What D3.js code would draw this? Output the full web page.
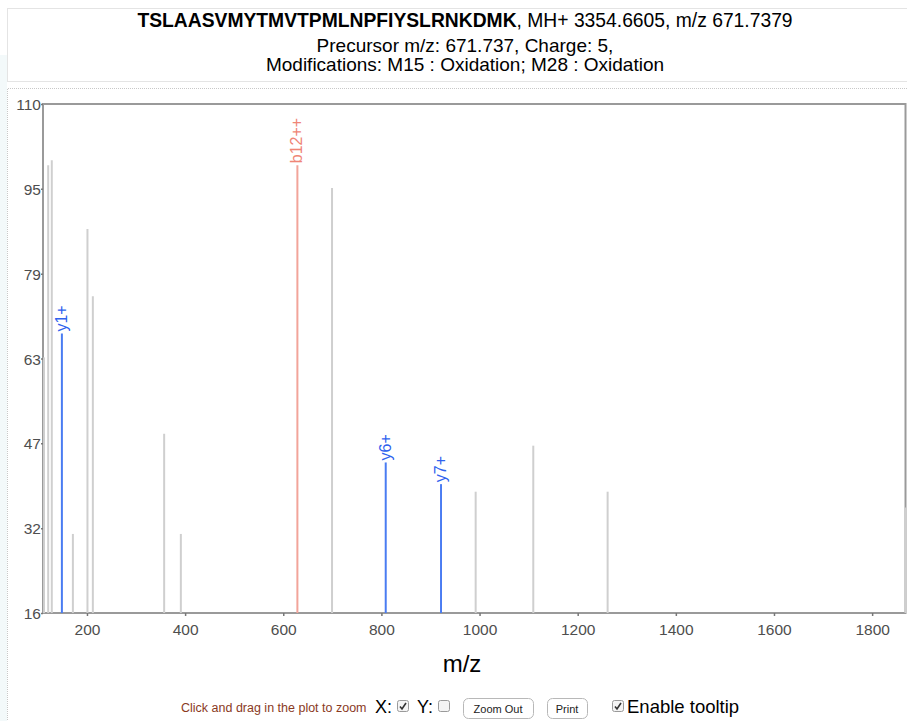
<!DOCTYPE html>
<html><head><meta charset="utf-8">
<script src="https://cdn.jsdelivr.net/npm/d3@7"></script>
<style>
html,body{margin:0;padding:0;background:#fff;}
svg{display:block;font-family:"Liberation Sans",Arial,sans-serif;}
</style></head>
<body>
<svg id="c" width="907" height="721"></svg>
<script>
// ---- data ----
const peptide = "TSLAASVMYTMVTPMLNPFIYSLRNKDMK";
const titleRest = ", MH+ 3354.6605, m/z 671.7379";
const subLine1 = "Precursor m/z: 671.737, Charge: 5,";
const subLine2 = "Modifications: M15 : Oxidation; M28 : Oxidation";
const mzValues    = [112.5, 121.0, 128.3, 148.9, 171.3, 201.0, 212.0, 357.3, 391.3, 628.8, 699.4, 808.8, 921.5, 992.1, 1109.5, 1261.0, 1868.0];
const intensities = [63.2, 98.7, 99.6, 67.6, 30.6, 86.9, 74.5, 49.1, 30.6, 98.7, 94.5, 43.8, 39.8, 38.4, 46.9, 38.4, 35.5];
const ionLabels   = ["", "", "", "y1+", "", "", "", "", "", "b12++", "", "y6+", "y7+", "", "", "", ""];
const ionTypes    = ["", "", "", "y", "", "", "", "", "", "b", "", "y", "y", "", "", "", ""];
const xDomain = [110.4, 1868];
const yDomain = [16, 110];
const xTicks = [200, 400, 600, 800, 1000, 1200, 1400, 1600, 1800];
const yTickLabels = ["16", "32", "47", "63", "79", "95", "110"];
const xAxisTitle = "m/z";

// ---- layout ----
const svg = d3.select("#c");
const L = 43, R = 905.5, T = 104, B = 613;
const x = d3.scaleLinear().domain(xDomain).range([L, R]);
const y = d3.scaleLinear().domain(yDomain).range([B, T]);

// faint left strip & dotted boxes
svg.append("rect").attr("x",0).attr("y",55).attr("width",7).attr("height",666).attr("fill","#f3f9fa");
const dot = g => g.attr("fill","none").attr("stroke","#c8c8c8").attr("stroke-width",1).attr("stroke-dasharray","1,1");
svg.append("rect").attr("x",7.5).attr("y",8.5).attr("width",920).attr("height",73).call(dot);
svg.append("path").attr("d","M7.5,730 V88.5 H920").call(dot);

// title
const tt = svg.append("text").attr("x",465).attr("y",27).attr("text-anchor","middle")
  .attr("font-size",19.3).attr("fill","#000");
tt.append("tspan").attr("font-weight","bold").text(peptide);
tt.append("tspan").text(titleRest);
svg.append("text").attr("x",465).attr("y",52).attr("text-anchor","middle").attr("font-size",19).text(subLine1);
svg.append("text").attr("x",465).attr("y",71).attr("text-anchor","middle").attr("font-size",19).text(subLine2);

// clip
svg.append("clipPath").attr("id","clip").append("rect").attr("x",L).attr("y",T-1).attr("width",R-L+1).attr("height",B-T+1);

// frame
svg.append("rect").attr("x",L).attr("y",T).attr("width",R-L).attr("height",B-T)
  .attr("fill","none").attr("stroke","#9a9a9a").attr("stroke-width",2);

// axes
const xa = svg.append("g").attr("transform",`translate(0,${B})`)
  .call(d3.axisBottom(x).tickValues(xTicks).tickSize(3).tickSizeOuter(0).tickFormat(d3.format("d")));
const yTickVals = d3.range(yTickLabels.length).map(i => yDomain[0] + i*(yDomain[1]-yDomain[0])/(yTickLabels.length-1));
const ya = svg.append("g").attr("transform",`translate(${L},0)`)
  .call(d3.axisLeft(y).tickValues(yTickVals).tickSize(2).tickSizeOuter(0).tickFormat((d,i)=>yTickLabels[i]));
[xa,ya].forEach(a=>{
  a.select(".domain").remove();
  a.selectAll(".tick line").attr("stroke","#777").attr("stroke-width",1.5);
  a.selectAll(".tick text").attr("font-size",15.5).attr("fill","#4e4e4e").attr("font-family","Liberation Sans, Arial, sans-serif");
});
xa.selectAll(".tick text").attr("dy","1.0em");
ya.selectAll(".tick text").attr("dy","0.36em").attr("x",-2);

// peaks
const colorLine = t => t==="y" ? "#4a7cf2" : t==="b" ? "#f2a49a" : "#cfcfcf";
const colorText = t => t==="y" ? "#2f62ee" : "#ef8576";
const peaks = mzValues.map((m,i)=>({mz:m, it:intensities[i], lab:ionLabels[i], t:ionTypes[i]}));
const pg = svg.append("g").attr("clip-path","url(#clip)");
pg.selectAll("line").data(peaks.filter(p=>!p.t).concat(peaks.filter(p=>p.t))).join("line")
  .attr("x1",d=>x(d.mz)).attr("x2",d=>x(d.mz))
  .attr("y1",y(yDomain[0])).attr("y2",d=>y(d.it))
  .attr("stroke",d=>colorLine(d.t)).attr("stroke-width",2);

svg.selectAll("text.lab").data(peaks.filter(p=>p.lab)).join("text").attr("class","lab")
  .attr("transform",d=>`translate(${x(d.mz)+5},${y(d.it)-2}) rotate(-90)`)
  .attr("font-size",16).attr("fill",d=>colorText(d.t)).text(d=>d.lab);

// x axis title
svg.append("text").attr("x",462).attr("y",672).attr("text-anchor","middle").attr("font-size",24).attr("fill","#000").text(xAxisTitle);

// controls
svg.append("text").attr("x",181).attr("y",712).attr("font-size",12.5).attr("fill","#8a3a1e").text("Click and drag in the plot to zoom");
svg.append("text").attr("x",375).attr("y",713).attr("font-size",18).attr("fill","#000").text("X:");
svg.append("text").attr("x",417).attr("y",713).attr("font-size",18).attr("fill","#000").text("Y:");
function checkbox(cx, checked){
  svg.append("rect").attr("x",cx+0.5).attr("y",700.5).attr("width",11).attr("height",11).attr("rx",2)
    .attr("fill","#f4f4f4").attr("stroke","#9a9a9a");
  if(checked) svg.append("path").attr("d",`M${cx+3},${706.5} L${cx+5},${709} L${cx+9},${703}`)
    .attr("fill","none").attr("stroke","#333").attr("stroke-width",1.6);
}
checkbox(397,true); checkbox(438,false); checkbox(612,true);
function button(bx, w, label){
  svg.append("rect").attr("x",bx+0.5).attr("y",698.5).attr("width",w).attr("height",20).attr("rx",5)
    .attr("fill","#fff").attr("stroke","#b8b8b8");
  svg.append("text").attr("x",bx+w/2).attr("y",713).attr("text-anchor","middle").attr("font-size",11).attr("fill","#222").text(label);
}
button(463,70,"Zoom Out"); button(547,40,"Print");
svg.append("text").attr("x",627).attr("y",713).attr("font-size",18.5).attr("fill","#000").text("Enable tooltip");
</script>
</body></html>
